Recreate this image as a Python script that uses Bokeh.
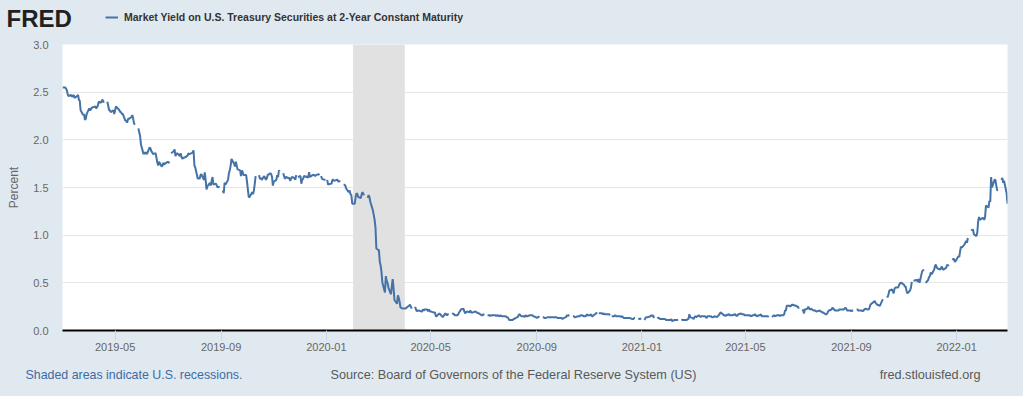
import numpy as np
import pandas as pd
from bokeh.plotting import figure
from bokeh.layouts import column
from bokeh.models import (ColumnDataSource, FixedTicker, DatetimeTickFormatter,
                          PrintfTickFormatter, Label, Legend, LegendItem, Range1d,
                          GlobalInlineStyleSheet)
from bokeh.embed import file_html
from bokeh.resources import INLINE

nan = float("nan")

series_name = "Market Yield on U.S. Treasury Securities at 2-Year Constant Maturity"

# Daily (business-day) values, percent; nan = market holiday (gap in the line)
y2019 = [
    2.55, 2.55, 2.54, 2.52, 2.48, 2.46, 2.47, 2.45, 2.46, 2.47, 2.44, 2.46, 2.47, 2.42, 2.41, 2.31, 2.26, 2.27, 2.21, 2.22, 2.27,  # Mar
    2.33, 2.31, 2.32, 2.34, 2.34, 2.35, 2.33, 2.34, 2.36, 2.40, 2.39, 2.42, 2.41, 2.39, nan, 2.40, 2.36, 2.31, 2.31, 2.29, 2.31, 2.27,  # Apr
    2.31, 2.35, 2.34, 2.31, 2.29, 2.29, 2.27, 2.27, 2.20, 2.20, 2.18, 2.22, 2.22, 2.24, 2.26, 2.22, 2.17, 2.16, nan, 2.12, 2.08, 2.04, 1.95,  # May
    1.85, 1.87, 1.85, 1.87, 1.85, 1.92, 1.91, 1.88, 1.87, 1.85, 1.86, 1.81, 1.76, 1.73, 1.77, 1.72, 1.73, 1.76, 1.74, 1.75,  # Jun
    1.77, 1.76, 1.77, nan, 1.86, 1.88, 1.90, 1.83, 1.85, 1.86, 1.83, 1.86, 1.82, 1.80, 1.81, 1.82, 1.83, 1.83, 1.86, 1.85, 1.86, 1.87, 1.89,  # Jul
    1.73, 1.71, 1.59, 1.60, 1.59, 1.63, 1.64, 1.58, 1.66, 1.58, 1.48, 1.51, 1.55, 1.52, 1.57, 1.61, 1.53, 1.54, 1.52, 1.50, 1.51, 1.50,  # Aug
    nan, 1.47, 1.44, 1.55, 1.53, 1.58, 1.65, 1.68, 1.73, 1.80, 1.75, 1.72, 1.77, 1.73, 1.69, 1.68, 1.62, 1.68, 1.66, 1.63, 1.63,  # Sep
    1.56, 1.48, 1.40, 1.40, 1.45, 1.43, 1.47, 1.54, 1.62, nan, 1.63, 1.59, 1.60, 1.58, 1.62, 1.60, 1.58, 1.60, 1.63, 1.65, 1.64, 1.61, 1.52,  # Oct
    1.56, 1.58, 1.63, 1.61, 1.68, 1.67, nan, 1.65, 1.62, 1.59, 1.61, 1.60, 1.60, 1.57, 1.59, 1.61, 1.60, 1.58, 1.63, nan, 1.61,  # Nov
    1.62, 1.54, 1.58, 1.59, 1.62, 1.61, 1.62, 1.60, 1.66, 1.61, 1.63, 1.63, 1.63, 1.62, 1.63, 1.64, 1.63, nan, 1.62, 1.59, 1.58, 1.58,  # Dec
]
y2020 = [
    nan, 1.58, 1.53, 1.54, 1.54, 1.58, 1.58, 1.57, 1.58, 1.58, 1.56, 1.57, 1.56, nan, 1.53, 1.53, 1.52, 1.49, 1.45, 1.47, 1.43, 1.42, 1.33,  # Jan
    1.33, 1.40, 1.44, 1.43, 1.40, 1.39, 1.43, 1.45, 1.43, 1.42, nan, 1.39, 1.42, 1.40, 1.35, 1.26, 1.21, 1.16, 1.08, 0.86,  # Feb
    0.84, 0.72, 0.68, 0.61, 0.50, 0.40, 0.57, 0.52, 0.50, 0.45, 0.38, 0.47, 0.54, 0.44, 0.32, 0.28, 0.37, 0.34, 0.30, 0.24, 0.23, 0.23,  # Mar
    0.23, 0.23, 0.24, 0.26, 0.27, 0.25, 0.23, nan, 0.25, 0.22, 0.20, 0.21, 0.21, 0.20, 0.20, 0.22, 0.21, 0.22, 0.22, 0.20, 0.22, 0.20,  # Apr
    0.20, 0.19, 0.19, 0.19, 0.15, 0.15, 0.18, 0.17, 0.16, 0.15, 0.14, 0.18, 0.17, 0.16, 0.17, 0.17, nan, 0.17, 0.18, 0.17, 0.16,  # May
    0.16, 0.17, 0.19, 0.20, 0.22, 0.23, 0.20, 0.18, 0.19, 0.20, 0.19, 0.21, 0.19, 0.19, 0.19, 0.20, 0.19, 0.19, 0.18, 0.18, 0.16, 0.16,  # Jun
    0.17, 0.16, nan, 0.16, 0.16, 0.16, 0.15, 0.16, 0.16, 0.16, 0.16, 0.15, 0.16, 0.15, 0.16, 0.15, 0.15, 0.15, 0.15, 0.14, 0.14, 0.13, 0.11,  # Jul
    0.11, 0.11, 0.12, 0.12, 0.13, 0.14, 0.16, 0.17, 0.16, 0.15, 0.15, 0.14, 0.16, 0.15, 0.15, 0.16, 0.16, 0.16, 0.16, 0.15, 0.14,  # Aug
    0.13, 0.14, 0.14, 0.15, nan, 0.14, 0.14, 0.13, 0.13, 0.14, 0.14, 0.14, 0.14, 0.14, 0.14, 0.14, 0.14, 0.14, 0.13, 0.13, 0.13, 0.13,  # Sep
    0.12, 0.13, 0.14, 0.16, 0.15, 0.16, 0.16, nan, 0.15, 0.15, 0.14, 0.14, 0.15, 0.15, 0.15, 0.16, 0.16, 0.15, 0.15, 0.15, 0.17, 0.16,  # Oct
    0.16, 0.17, 0.15, 0.15, 0.16, 0.18, 0.19, nan, 0.18, 0.18, 0.18, 0.17, 0.18, 0.17, 0.17, 0.17, 0.17, 0.16, nan, 0.15, 0.15,  # Nov
    0.16, 0.15, 0.15, 0.15, 0.15, 0.14, 0.15, 0.14, 0.13, 0.13, 0.13, 0.13, 0.13, 0.13, 0.12, 0.12, 0.13, 0.13, nan, 0.13, 0.12, 0.12, 0.13,  # Dec
]
y2021 = [
    nan, 0.11, 0.13, 0.14, 0.14, 0.14, 0.15, 0.16, 0.15, 0.16, 0.13, nan, 0.14, 0.13, 0.13, 0.12, 0.12, 0.12, 0.12, 0.12, 0.11,  # Jan
    0.11, 0.11, 0.11, 0.12, 0.10, 0.11, 0.11, 0.11, 0.11, 0.11, nan, 0.12, 0.11, 0.11, 0.11, 0.11, 0.12, 0.12, 0.17, 0.14,  # Feb
    0.13, 0.12, 0.14, 0.15, 0.14, 0.16, 0.15, 0.14, 0.15, 0.15, 0.15, 0.14, 0.13, 0.15, 0.15, 0.15, 0.14, 0.14, 0.14, 0.15, 0.14, 0.15, 0.16,  # Mar
    0.17, 0.19, 0.17, 0.16, 0.16, 0.15, 0.16, 0.17, 0.16, 0.16, 0.16, 0.16, 0.17, 0.16, 0.15, 0.16, 0.17, 0.18, 0.17, 0.17, 0.17, 0.16,  # Apr
    0.16, 0.16, 0.16, 0.16, 0.15, 0.16, 0.16, 0.17, 0.16, 0.15, 0.16, 0.16, 0.17, 0.15, 0.15, 0.15, 0.15, 0.15, 0.15, 0.14, nan,  # May
    0.14, 0.15, 0.16, 0.15, 0.16, 0.16, 0.16, 0.15, 0.16, 0.16, 0.17, 0.21, 0.21, 0.26, 0.26, 0.25, 0.26, 0.27, 0.27, 0.26, 0.26, 0.25,  # Jun
    0.25, 0.23, nan, 0.22, 0.21, 0.18, 0.22, 0.23, 0.25, 0.23, 0.22, 0.23, 0.21, 0.21, 0.21, 0.20, 0.20, 0.21, 0.20, 0.20, 0.19, 0.19,  # Jul
    0.17, 0.17, 0.18, 0.20, 0.21, 0.22, 0.24, 0.23, 0.22, 0.21, 0.21, 0.21, 0.22, 0.22, 0.22, 0.22, 0.23, 0.24, 0.23, 0.21, 0.21, 0.21,  # Aug
    0.20, 0.21, 0.21, nan, 0.22, 0.22, 0.21, 0.21, 0.21, 0.20, 0.21, 0.22, 0.23, 0.22, 0.22, 0.24, 0.27, 0.28, 0.30, 0.31, 0.29, 0.28,  # Sep
    0.27, 0.26, 0.28, 0.30, 0.32, 0.32, nan, 0.36, 0.35, 0.38, 0.42, 0.43, 0.41, 0.39, 0.44, 0.45, 0.45, 0.47, 0.49, 0.50, 0.50,  # Oct
    0.48, 0.46, 0.46, 0.41, 0.39, 0.42, 0.45, 0.51, nan, 0.52, 0.53, 0.53, 0.51, 0.54, 0.50, 0.62, 0.63, 0.64, nan, 0.50, 0.53, 0.56,  # Nov
    0.57, 0.61, 0.59, 0.64, 0.68, 0.69, 0.66, 0.65, 0.64, 0.66, 0.67, 0.64, 0.64, 0.66, 0.69, 0.68, 0.69, nan, 0.74, 0.75, 0.75, 0.72, 0.73,  # Dec
]
y2022 = [
    0.78, 0.77, 0.83, 0.88, 0.87, 0.90, 0.92, 0.94, 0.92, 0.97, nan, 1.06, 1.05, 1.06, 1.01, 0.99, 1.03, 1.15, 1.19, 1.16, 1.18,  # Jan
    1.18, 1.16, 1.19, 1.31, 1.29, 1.36, 1.35, 1.61, 1.50, 1.58, 1.58, 1.52, 1.47, 1.47, nan, 1.58, 1.60, 1.55, 1.57, 1.44,  # Feb
    1.33,  # Mar
]
year_spans = [("2019-03-01", "2019-12-31"), ("2020-01-01", "2020-12-31"),
              ("2021-01-01", "2021-12-31"), ("2022-01-01", "2022-03-01")]

recession_start = ["2020-02-01"]
recession_end = ["2020-04-01"]

x_tick_labels = ["2019-05", "2019-09", "2020-01", "2020-05", "2020-09",
                 "2021-01", "2021-05", "2021-09", "2022-01"]
y_ticks = [0.0, 0.5, 1.0, 1.5, 2.0, 2.5, 3.0]

# ---- assemble series ----
dates, vals = [], []
for yv, (s, e) in zip([y2019, y2020, y2021, y2022], year_spans):
    d = pd.bdate_range(s, e)
    n = min(len(d), len(yv))
    dates.extend(list(d[:n]))
    vals.extend(yv[:n])
src = ColumnDataSource(dict(date=pd.to_datetime(dates), value=np.array(vals, dtype=float)))

BG = "#e1e9f0"
FONT = "Liberation Sans"
LINE = "#4572a7"
W = 1023
H_HDR, H_MAIN, H_FTR = 38, 322, 36


def strip(h):
    f = figure(width=W, height=h, x_range=Range1d(0, W), y_range=Range1d(h, 0),
               output_backend="svg", toolbar_location=None,
               x_axis_location=None, y_axis_location=None,
               min_border=0, min_border_left=0, min_border_right=0,
               min_border_top=0, min_border_bottom=0)
    f.grid.visible = False
    f.outline_line_color = None
    f.background_fill_color = BG
    f.border_fill_color = BG
    if "frame_align" in f.properties():
        f.frame_align = False
    return f


# ---- header: logo + legend ----
hdr = strip(H_HDR)
hdr.add_layout(Label(x=6, y=18, text="FRED", text_font=FONT, text_font_style="bold",
                     text_font_size="24px", text_color="#231f20", text_baseline="middle"))
# same series, drawn off-range here, only to provide the legend key
key = hdr.line("date", "value", source=src, line_color=LINE, line_width=2)
legend = Legend(items=[LegendItem(label=series_name, renderers=[key])],
                location=(105, 15), orientation="horizontal",
                label_text_font=FONT, label_text_font_size="10.5px",
                label_text_font_style="bold", label_text_color="#333333",
                glyph_width=13, glyph_height=12, label_height=12, label_standoff=6,
                padding=0, margin=0, spacing=0,
                background_fill_alpha=0, border_line_alpha=0)
hdr.add_layout(legend)

# ---- main chart ----
p = figure(width=W, height=H_MAIN, x_axis_type="datetime",
           x_range=(pd.Timestamp("2019-03-01"), pd.Timestamp("2022-03-01")),
           y_range=(0, 3.0), output_backend="svg", toolbar_location=None,
           min_border_left=62, min_border_right=16, min_border_top=6, min_border_bottom=30)
p.border_fill_color = BG
p.background_fill_color = "white"
p.outline_line_color = None

p.quad(left=pd.to_datetime(recession_start), right=pd.to_datetime(recession_end),
       bottom=[y_ticks[0]], top=[y_ticks[-1]], fill_color="#e1e1e1", line_color=None)

p.line("date", "value", source=src, line_color=LINE, line_width=2)

xa = p.xaxis[0]
xa.ticker = FixedTicker(ticks=[pd.Timestamp(t + "-01").value / 1e6 for t in x_tick_labels],
                        minor_ticks=[])
fmt = "%Y-%m"
xa.formatter = DatetimeTickFormatter(days=fmt, months=fmt, years=fmt, hours=fmt,
                                     minutes=fmt, seconds=fmt, milliseconds=fmt,
                                     hourmin=fmt, minsec=fmt, microseconds=fmt)
xa.axis_line_color = "#000000"
xa.axis_line_width = 2
xa.major_tick_line_color = "#ccd6eb"
xa.major_tick_out = 10
xa.major_tick_in = 0
xa.minor_tick_line_color = None
xa.major_label_standoff = 2
xa.major_label_text_font = FONT
xa.major_label_text_font_size = "11px"
xa.major_label_text_color = "#666666"

ya = p.yaxis[0]
ya.ticker = FixedTicker(ticks=y_ticks, minor_ticks=[])
ya.formatter = PrintfTickFormatter(format="%.1f")
ya.axis_line_color = None
ya.major_tick_line_color = None
ya.minor_tick_line_color = None
ya.major_tick_out = 0
ya.major_tick_in = 0
ya.major_label_standoff = 14
ya.major_label_text_font = FONT
ya.major_label_text_font_size = "11px"
ya.major_label_text_color = "#666666"
ya.axis_label = "Percent"
ya.axis_label_text_font = FONT
ya.axis_label_text_font_style = "normal"
ya.axis_label_text_font_size = "12px"
ya.axis_label_text_color = "#666666"
ya.axis_label_standoff = 9

p.xgrid.visible = False
p.ygrid.ticker = FixedTicker(ticks=y_ticks, minor_ticks=[])
p.ygrid.grid_line_color = "#e6e6e6"
p.ygrid.grid_line_width = 1

# ---- footer ----
ftr = strip(H_FTR)
ftr.add_layout(Label(x=25, y=14, text="Shaded areas indicate U.S. recessions.",
                     text_font=FONT, text_font_size="12.4px", text_color="#3d6ba5",
                     text_baseline="middle"))
ftr.add_layout(Label(x=330, y=14,
                     text="Source: Board of Governors of the Federal Reserve System (US)",
                     text_font=FONT, text_font_size="12.7px", text_color="#595959",
                     text_baseline="middle"))
ftr.add_layout(Label(x=980, y=14, text="fred.stlouisfed.org", text_align="right",
                     text_font=FONT, text_font_size="12.7px", text_color="#595959",
                     text_baseline="middle"))

page = column(hdr, p, ftr, spacing=0)
page.stylesheets = [GlobalInlineStyleSheet(css="html, body { background: %s; }" % BG)]

open("out.html", "w").write(file_html(page, INLINE))
